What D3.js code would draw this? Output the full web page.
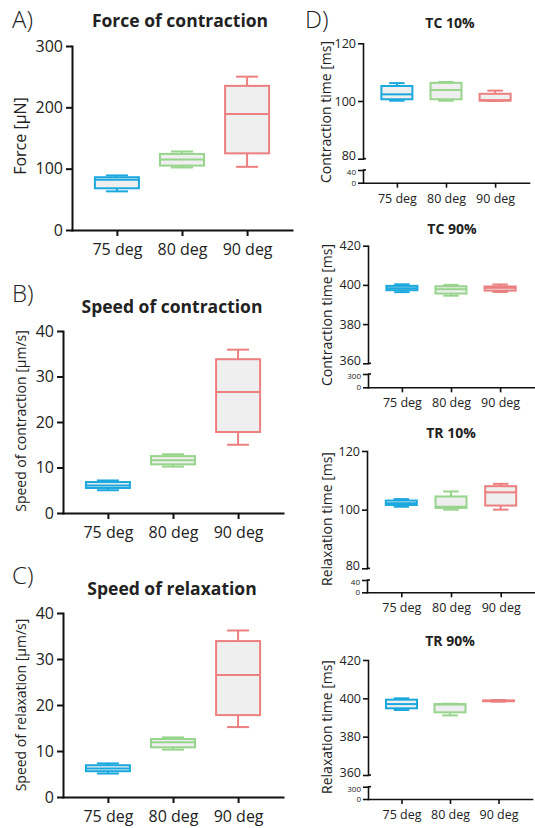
<!DOCTYPE html>
<html>
<head>
<meta charset="utf-8">
<script src="https://cdn.jsdelivr.net/npm/d3@7"></script>
<style>
  body { margin: 0; background: #fff; }
  text { font-family: 'Open Sans', sans-serif; fill: #222; }
</style>
</head>
<body>
<svg id="chart" width="535" height="828"></svg>
<script>
const groups = ['75 deg', '80 deg', '90 deg']
const colors = ['#1ba8df', '#97d48c', '#ec7f7f']

// box stats per group: [min, q1, median, q3, max]
const force = [[63, 68, 82, 86, 89], [102, 105, 115, 124, 128], [103, 125, 189, 235, 250]]
const speedContraction = [[5.0, 5.5, 6.05, 6.8, 7.15], [10.2, 10.7, 11.6, 12.5, 12.9], [15.0, 17.8, 26.6, 33.8, 35.9]]
const speedRelaxation = [[5.1, 5.6, 6.2, 6.9, 7.3], [10.3, 10.8, 11.9, 12.6, 12.95], [15.2, 17.8, 26.5, 33.9, 36.2]]
const tc10 = [[100.1, 100.6, 102.3, 105.2, 106.2], [100.1, 100.6, 103.8, 106.3, 106.6], [100, 100.1, 100.3, 102.5, 103.6]]
const tc90 = [[396.3, 397.3, 398.3, 399.5, 400.3], [394.5, 395.6, 397.8, 399.3, 400], [396.4, 397.1, 398.5, 399.2, 400.2]]
const tr10 = [[101, 101.6, 102.2, 103.1, 103.6], [100, 100.6, 101, 104.5, 106.2], [100, 101.4, 105.9, 108, 108.8]]
const tr90 = [[393.9, 394.8, 397, 399.3, 400], [391.1, 392.7, 396.8, 397, 397.2], [398.3, 398.5, 398.7, 398.9, 399.1]]

const forceTicks = [0, 100, 200, 300]
const speedTicks = [0, 10, 20, 30, 40]
const ms100Ticks = [80, 100, 120]
const ms100LowTicks = [0, 40]
const ms400Ticks = [360, 380, 400, 420]
const ms400LowTicks = [0, 300]

const svg = d3.select('#chart')

function panel(cfg) {
  const g = svg.append('g')
  const x = d3.scalePoint().domain(groups).range([cfg.x0, cfg.x1]).padding(0.69)
  const y = d3.scaleLinear().domain(cfg.domain).range([cfg.yBottom, cfg.yTop])
  const base = cfg.low ? cfg.low.yZero : cfg.yBottom

  // y axis (upper part)
  const ya = g.append('g')
    .attr('transform', 'translate(' + cfg.x0 + ',0)')
    .call(d3.axisLeft(y).tickValues(cfg.ticks).tickSize(cfg.tick).tickSizeOuter(0).tickPadding(cfg.pad))
  ya.selectAll('text').style('font-size', cfg.fs + 'px')

  // lower part of the broken axis
  if (cfg.low) {
    const y2 = d3.scaleLinear().domain(cfg.low.domain).range([cfg.low.yZero, cfg.low.yTop])
    const yb = g.append('g')
      .attr('transform', 'translate(' + cfg.x0 + ',0)')
      .call(d3.axisLeft(y2).tickValues(cfg.low.ticks).tickSize(cfg.tick).tickSizeOuter(0).tickPadding(cfg.pad))
    yb.selectAll('text').style('font-size', '8px')
    // keep the labels on either side of the break apart
    ya.selectAll('text').filter(d => d === cfg.domain[0]).attr('dy', '0.1em')
    yb.selectAll('text').filter(d => d === cfg.low.domain[1]).attr('dy', '0.55em')
    // small caps at the break
    g.append('line').attr('x1', cfg.x0).attr('x2', cfg.x0 + 3).attr('y1', y(cfg.domain[0])).attr('y2', y(cfg.domain[0]))
      .attr('stroke', '#111').attr('stroke-width', 1.6)
    g.append('line').attr('x1', cfg.x0).attr('x2', cfg.x0 + 3).attr('y1', y2(cfg.low.domain[1])).attr('y2', y2(cfg.low.domain[1]))
      .attr('stroke', '#111').attr('stroke-width', 1.6)
  }

  // x axis
  const xa = g.append('g')
    .attr('transform', 'translate(0,' + base + ')')
    .call(d3.axisBottom(x).tickSize(cfg.tick).tickSizeOuter(0).tickPadding(cfg.xpad))
  xa.selectAll('text').style('font-size', cfg.fs + 'px')

  g.selectAll('.domain, .tick line').attr('stroke', '#111').attr('stroke-width', cfg.sw)
  g.selectAll('.domain').attr('stroke-linecap', 'square')

  // boxes
  const w = cfg.bw
  cfg.data.forEach(function(s, i) {
    const cx = x(groups[i])
    const c = colors[i]
    const b = g.append('g').attr('stroke', c).attr('stroke-width', 2).attr('fill', 'none')
    b.append('line').attr('x1', cx).attr('x2', cx).attr('y1', y(s[0])).attr('y2', y(s[1]))
    b.append('line').attr('x1', cx).attr('x2', cx).attr('y1', y(s[3])).attr('y2', y(s[4]))
    b.append('line').attr('x1', cx - w / 4).attr('x2', cx + w / 4).attr('y1', y(s[0])).attr('y2', y(s[0]))
    b.append('line').attr('x1', cx - w / 4).attr('x2', cx + w / 4).attr('y1', y(s[4])).attr('y2', y(s[4]))
    b.append('rect').attr('x', cx - w / 2).attr('width', w)
      .attr('y', y(s[3])).attr('height', y(s[1]) - y(s[3]))
      .attr('fill', '#efefef')
    b.append('line').attr('x1', cx - w / 2).attr('x2', cx + w / 2).attr('y1', y(s[2])).attr('y2', y(s[2]))
  })

  // title and y label
  svg.append('text').attr('x', cfg.titleX).attr('y', cfg.titleY)
    .attr('text-anchor', 'middle').style('font-weight', 700).style('font-size', cfg.tfs + 'px')
    .text(cfg.title)
  svg.append('text')
    .attr('transform', 'translate(' + cfg.labelX + ',' + cfg.labelY + ') rotate(-90)')
    .attr('text-anchor', 'middle').style('font-size', cfg.lfs + 'px')
    .text(cfg.label)
}

const left = {tick: 6, pad: 3, xpad: 8, fs: 16, sw: 2, bw: 44, tfs: 17.5}
const right = {tick: 5, pad: 2, xpad: 6, fs: 12.5, sw: 1.6, bw: 31, tfs: 14, lfs: 14}

panel(Object.assign({}, left, {
  data: force, domain: [0, 300], ticks: forceTicks, x0: 72, x1: 292, yBottom: 230, yTop: 46,
  title: 'Force of contraction', titleX: 180, titleY: 27, label: 'Force [\u03bcN]', labelX: 26, labelY: 136, lfs: 16
}))
panel(Object.assign({}, left, {
  data: speedContraction, domain: [0, 40], ticks: speedTicks, x0: 63, x1: 283, yBottom: 513, yTop: 331,
  title: 'Speed of contraction', titleX: 172, titleY: 313, label: 'Speed of contraction [\u03bcm/s]', labelX: 26, labelY: 421, lfs: 14
}))
panel(Object.assign({}, left, {
  data: speedRelaxation, domain: [0, 40], ticks: speedTicks, x0: 63, x1: 283, yBottom: 797, yTop: 613,
  title: 'Speed of relaxation', titleX: 172, titleY: 595, label: 'Speed of relaxation [\u03bcm/s]', labelX: 26, labelY: 705, lfs: 14
}))
panel(Object.assign({}, right, {
  data: tc10, domain: [80, 120], ticks: ms100Ticks, x0: 363, x1: 529, yBottom: 158.7, yTop: 43.3,
  low: {domain: [0, 40], ticks: ms100LowTicks, yZero: 182.7, yTop: 170},
  title: 'TC 10%', titleX: 450, titleY: 28, label: 'Contraction time [ms]', labelX: 331, labelY: 112
}))
panel(Object.assign({}, right, {
  data: tc90, domain: [360, 420], ticks: ms400Ticks, x0: 368, x1: 534, yBottom: 363.3, yTop: 245.7,
  low: {domain: [0, 300], ticks: ms400LowTicks, yZero: 387.3, yTop: 374},
  title: 'TC 90%', titleX: 452, titleY: 234, label: 'Contraction time [ms]', labelX: 332, labelY: 315
}))
panel(Object.assign({}, right, {
  data: tr10, domain: [80, 120], ticks: ms100Ticks, x0: 367, x1: 535, yBottom: 568.3, yTop: 451,
  low: {domain: [0, 40], ticks: ms100LowTicks, yZero: 592.3, yTop: 580},
  title: 'TR 10%', titleX: 451, titleY: 438, label: 'Relaxation time [ms]', labelX: 332, labelY: 519
}))
panel(Object.assign({}, right, {
  data: tr90, domain: [360, 420], ticks: ms400Ticks, x0: 368, x1: 532, yBottom: 775, yTop: 660,
  low: {domain: [0, 300], ticks: ms400LowTicks, yZero: 799, yTop: 786.7},
  title: 'TR 90%', titleX: 450, titleY: 646, label: 'Relaxation time [ms]', labelX: 332, labelY: 727
}))

// panel letters
const letters = [['A)', 12, 28], ['B)', 12, 302], ['C)', 12, 584], ['D)', 305, 28]]
svg.selectAll('.letter').data(letters).enter().append('text')
  .attr('class', 'letter')
  .attr('x', d => d[1]).attr('y', d => d[2])
  .style('font-size', '24px').style('font-weight', 300)
  .text(d => d[0])
</script>
</body>
</html>
